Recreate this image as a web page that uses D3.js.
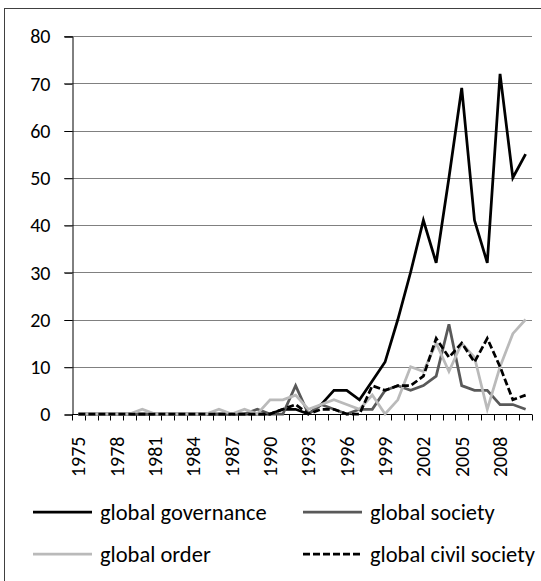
<!DOCTYPE html>
<html>
<head>
<meta charset="utf-8">
<script src="https://cdn.jsdelivr.net/npm/d3@7/dist/d3.min.js"></script>
<style>
  html, body { margin: 0; padding: 0; background: #fff; }
  svg text { font-family: Carlito, Calibri, Lato, "Open Sans", sans-serif; fill: #000; }
</style>
</head>
<body>
<svg id="chart" width="541" height="581"></svg>
<script>
const years = d3.range(1975, 2011);
const yTicks = [0, 10, 20, 30, 40, 50, 60, 70, 80];
const xTickLabels = [1975, 1978, 1981, 1984, 1987, 1990, 1993, 1996, 1999, 2002, 2005, 2008];

const globalGovernance = [0,0,0,0,0,0,0,0,0,0,0,0,0,0,0,0,1,1,0,2,5,5,3,7,11,20,30,41,32,50,69,41,32,72,50,55];
const globalSociety    = [0,0,0,0,0,0,0,0,0,0,0,0,0,0,1,0,0,6,0,2,1,0,1,1,5,6,5,6,8,19,6,5,5,2,2,1];
const globalOrder      = [0,0,0,0,0,1,0,0,0,0,0,1,0,1,0,3,3,4,1,2,3,2,1,4,0,3,10,9,15,9,15,12,1,10,17,20];
const globalCivil      = [0,0,0,0,0,0,0,0,0,0,0,0,0,0,0,0,1,2,0,1,1,0,0,6,5,6,6,8,16,12,15,11,16,10,3,4];

const series = [
  {name: "global governance", values: globalGovernance, color: "#000000", dash: null},
  {name: "global society", values: globalSociety, color: "#595959", dash: null},
  {name: "global order", values: globalOrder, color: "#bababa", dash: null},
  {name: "global civil society", values: globalCivil, color: "#000000", dash: "7,3"}
];

const svg = d3.select("#chart");
const L = 72, R = 532, T = 36, B = 414;

// outer border
svg.append("rect").attr("x", 4.5).attr("y", 8.5).attr("width", 620).attr("height", 620)
  .attr("fill", "none").attr("stroke", "#404040").attr("stroke-width", 1);

const x = d3.scaleBand().domain(years).range([L, R]).padding(0);
const y = d3.scaleLinear().domain([0, 80]).range([B, T]);

// gridlines
svg.append("g").selectAll("line").data(yTicks.filter(d => d > 0)).join("line")
  .attr("x1", L - 8).attr("x2", R)
  .attr("y1", d => Math.round(y(d)) + 0.5).attr("y2", d => Math.round(y(d)) + 0.5)
  .attr("stroke", "#808080").attr("stroke-width", 1);

// y axis
const yAxis = d3.axisLeft(y).tickValues(yTicks).tickSize(8).tickPadding(14);
const gy = svg.append("g").attr("transform", `translate(${L + 0.5},0.5)`).call(yAxis);
gy.select(".domain").attr("stroke", "#000");
gy.selectAll(".tick line").attr("stroke", "#000");
gy.selectAll(".tick text").attr("font-size", 20).attr("font-family", null);

// x axis
const gx = svg.append("g").attr("transform", `translate(0,${B + 0.5})`);
gx.append("line").attr("x1", L).attr("x2", R).attr("stroke", "#000");
const bounds = years.map(d => x(d)).concat([R]);
gx.selectAll("line.tk").data(bounds).join("line").attr("class", "tk")
  .attr("x1", d => Math.round(d) + 0.5).attr("x2", d => Math.round(d) + 0.5)
  .attr("y1", 0).attr("y2", 6).attr("stroke", "#000");
gx.selectAll("text").data(xTickLabels).join("text")
  .attr("transform", d => `translate(${x(d) + x.bandwidth() / 2},22) rotate(-90)`)
  .attr("text-anchor", "end").attr("dominant-baseline", "central")
  .attr("font-size", 20).text(d => d);

// lines
const line = d3.line().x((d, i) => x(years[i]) + x.bandwidth() / 2).y(d => y(d));
svg.append("g").selectAll("path").data(series).join("path")
  .attr("d", d => line(d.values))
  .attr("fill", "none").attr("stroke", d => d.color).attr("stroke-width", 2.75)
  .attr("stroke-linejoin", "miter").attr("stroke-dasharray", d => d.dash);

// legend
const legendPos = [[33, 512], [303, 512], [33, 554], [303, 554]];
const lg = svg.append("g").selectAll("g").data(series).join("g")
  .attr("transform", (d, i) => `translate(${legendPos[i][0]},${legendPos[i][1]})`);
lg.append("line").attr("x1", 0).attr("x2", 59)
  .attr("stroke", d => d.color).attr("stroke-width", 2.75).attr("stroke-dasharray", d => d.dash);
lg.append("text").attr("x", 67).attr("y", 0).attr("dominant-baseline", "central")
  .attr("font-size", 22.5).text(d => d.name);
</script>
</body>
</html>
